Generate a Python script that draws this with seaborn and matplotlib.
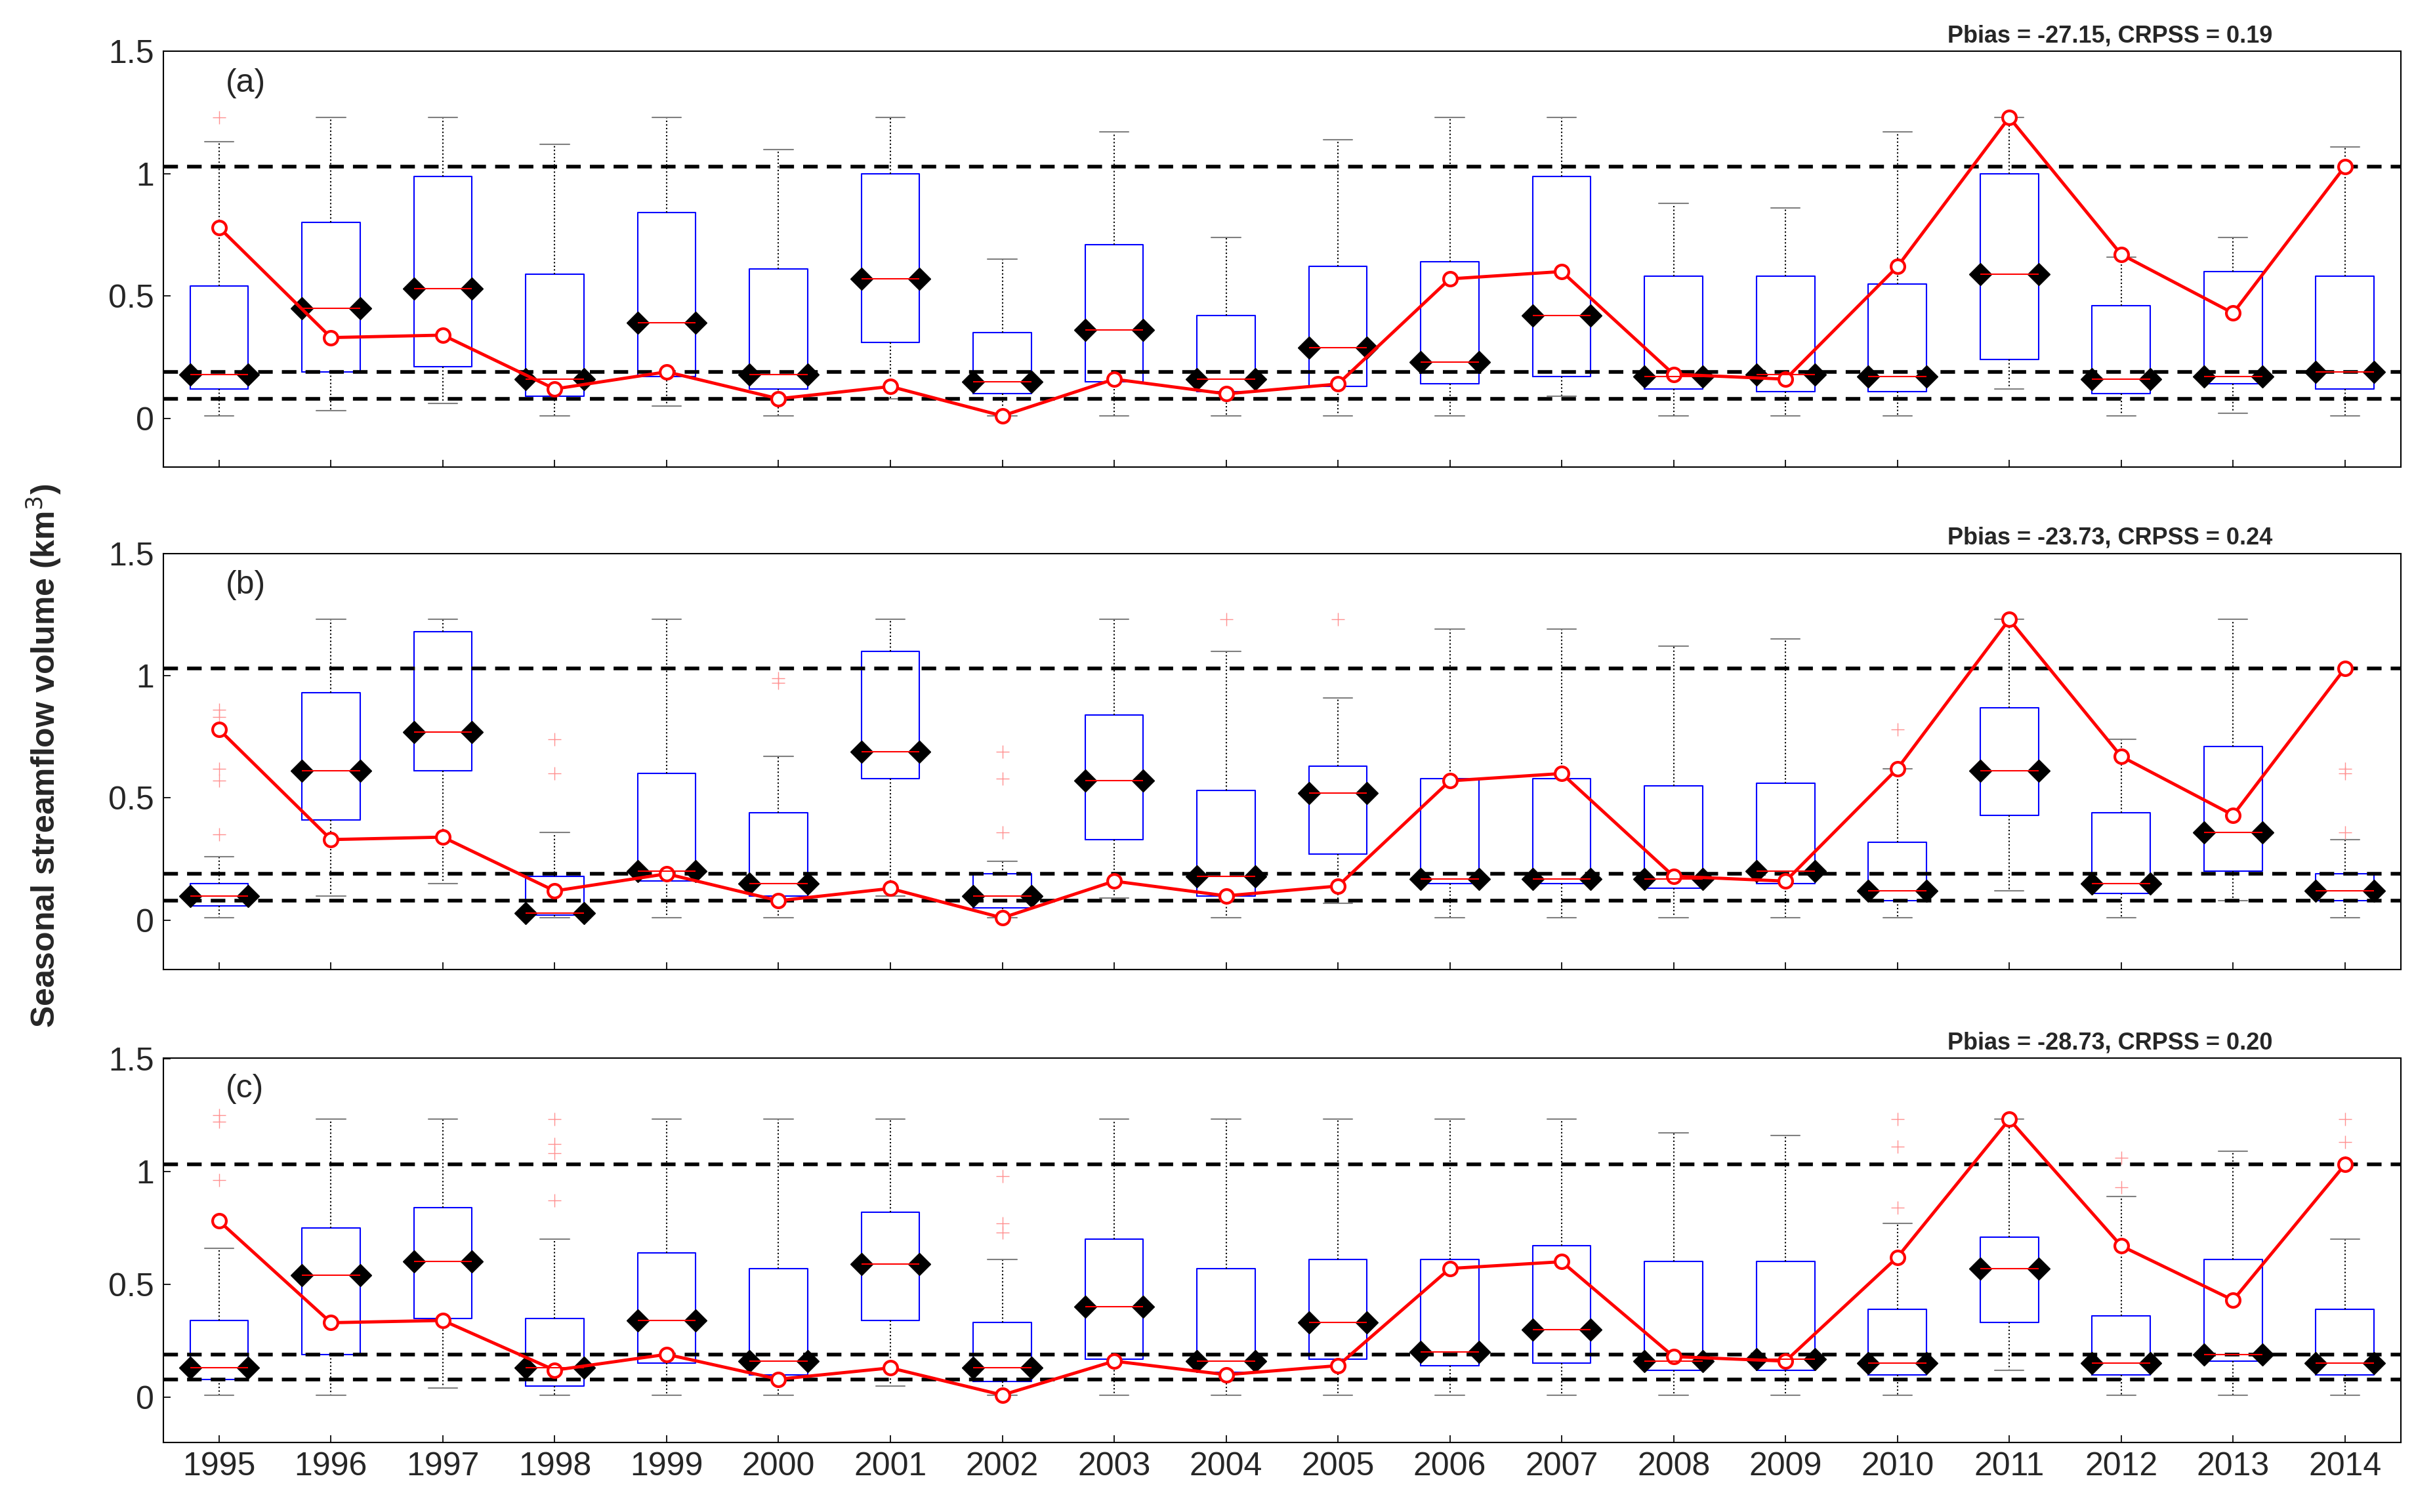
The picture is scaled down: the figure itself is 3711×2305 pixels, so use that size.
import numpy as np
import matplotlib
matplotlib.use("Agg")
import matplotlib.pyplot as plt
import seaborn as sns
import pandas as pd

sns.set_theme(style="white")
plt.rcParams['font.family'] = ['Arial', 'Liberation Sans', 'DejaVu Sans']

years = list(range(1995, 2015))
observed = [0.78, 0.33, 0.34, 0.12, 0.19, 0.08, 0.13, 0.01, 0.16, 0.10,
            0.14, 0.57, 0.60, 0.18, 0.16, 0.62, 1.23, 0.67, 0.43, 1.03]
ref_lines = [1.03, 0.19, 0.08]
titles = ["Pbias = -27.15, CRPSS = 0.19", "Pbias = -23.73, CRPSS = 0.24", "Pbias = -28.73, CRPSS = 0.20"]
labels = ["(a)", "(b)", "(c)"]

# per panel: [q1, median, q3, whisker_lo, whisker_hi] for each year
stats_a = [[0.12,0.18,0.54,0.01,1.13],[0.19,0.45,0.80,0.03,1.23],[0.21,0.53,0.99,0.06,1.23],
           [0.09,0.16,0.59,0.01,1.12],[0.17,0.39,0.84,0.05,1.23],[0.12,0.18,0.61,0.01,1.10],
           [0.31,0.57,1.00,0.08,1.23],[0.10,0.15,0.35,0.01,0.65],[0.15,0.36,0.71,0.01,1.17],
           [0.11,0.16,0.42,0.01,0.74],[0.13,0.29,0.62,0.01,1.14],[0.14,0.23,0.64,0.01,1.23],
           [0.17,0.42,0.99,0.09,1.23],[0.12,0.17,0.58,0.01,0.88],[0.11,0.18,0.58,0.01,0.86],
           [0.11,0.17,0.55,0.01,1.17],[0.24,0.59,1.00,0.12,1.23],[0.10,0.16,0.46,0.01,0.66],
           [0.14,0.17,0.60,0.02,0.74],[0.12,0.19,0.58,0.01,1.11]]
fliers_a = [[1.23]] + [[]]*19
stats_b = [[0.06,0.10,0.15,0.01,0.26],[0.41,0.61,0.93,0.10,1.23],[0.61,0.77,1.18,0.15,1.23],
           [0.02,0.03,0.18,0.01,0.36],[0.16,0.20,0.60,0.01,1.23],[0.10,0.15,0.44,0.01,0.67],
           [0.58,0.69,1.10,0.10,1.23],[0.05,0.10,0.19,0.01,0.24],[0.33,0.57,0.84,0.09,1.23],
           [0.10,0.18,0.53,0.01,1.10],[0.27,0.52,0.63,0.07,0.91],[0.15,0.17,0.58,0.01,1.19],
           [0.15,0.17,0.58,0.01,1.19],[0.13,0.17,0.55,0.01,1.12],[0.15,0.20,0.56,0.01,1.15],
           [0.08,0.12,0.32,0.01,0.62],[0.43,0.61,0.87,0.12,1.23],[0.11,0.15,0.44,0.01,0.74],
           [0.20,0.36,0.71,0.08,1.23],[0.08,0.12,0.19,0.01,0.33]]
fliers_b = [[0.35,0.57,0.62,0.83,0.86],[],[],[0.60,0.74],[],[0.97,0.99],[],[0.36,0.58,0.69],[],[1.23],
            [1.23],[],[],[],[],[0.78],[],[],[],[0.36,0.60,0.62]]
stats_c = [[0.08,0.13,0.34,0.01,0.66],[0.19,0.54,0.75,0.01,1.23],[0.35,0.60,0.84,0.04,1.23],
           [0.05,0.13,0.35,0.01,0.70],[0.15,0.34,0.64,0.01,1.23],[0.10,0.16,0.57,0.01,1.23],
           [0.34,0.59,0.82,0.05,1.23],[0.07,0.13,0.33,0.01,0.61],[0.17,0.40,0.70,0.01,1.23],
           [0.11,0.16,0.57,0.01,1.23],[0.17,0.33,0.61,0.01,1.23],[0.14,0.20,0.61,0.01,1.23],
           [0.15,0.30,0.67,0.01,1.23],[0.12,0.16,0.60,0.01,1.17],[0.12,0.17,0.60,0.01,1.16],
           [0.10,0.15,0.39,0.01,0.77],[0.33,0.57,0.71,0.12,1.23],[0.10,0.15,0.36,0.01,0.89],
           [0.16,0.19,0.61,0.01,1.09],[0.10,0.15,0.39,0.01,0.70]]
fliers_c = [[0.96,1.22,1.25],[],[],[0.87,1.08,1.12,1.23],[],[],[],[0.73,0.77,0.98],[],[],
            [],[],[],[],[],[0.84,1.11,1.23],[],[0.93,1.06],[],[1.04,1.13,1.23]]

panels = [(stats_a, fliers_a), (stats_b, fliers_b), (stats_c, fliers_c)]
positions = [(0.067, 0.691, 0.919, 0.275), (0.067, 0.359, 0.919, 0.275), (0.067, 0.046, 0.919, 0.254)]

fig = plt.figure(figsize=(37.11, 23.05), dpi=100)
pos = np.arange(len(years))
for k, ((st, fl), rect) in enumerate(zip(panels, positions)):
    ax = fig.add_axes(rect)
    bstats = [dict(q1=s[0], med=s[1], q3=s[2], whislo=s[3], whishi=s[4], fliers=f)
              for s, f in zip(st, fl)]
    ax.bxp(bstats, positions=pos, widths=0.52, showfliers=True, manage_ticks=False,
           boxprops=dict(color='blue', linewidth=1.5),
           medianprops=dict(color='red', linewidth=1.5),
           whiskerprops=dict(color='black', linestyle=':', linewidth=1.5),
           capprops=dict(color='gray', linewidth=1.5),
           flierprops=dict(marker='+', markeredgecolor='#ff9090', markersize=14, linestyle='none'))
    meds = np.array([s[1] for s in st])
    for off in (-0.26, 0.26):
        ax.plot(pos + off, meds, linestyle='none', marker='D', color='black', markersize=17)
    for r in ref_lines:
        ax.axhline(r, color='black', linestyle='--', linewidth=4, dashes=(4, 2.5))
    df = pd.DataFrame({'x': pos, 'obs': observed})
    sns.lineplot(data=df, x='x', y='obs', ax=ax, color='red', linewidth=3.5, marker='o',
                 markersize=15, markerfacecolor='white', markeredgecolor='red', markeredgewidth=3)
    ax.set_xlim(-0.5, 19.5)
    ax.set_ylim(-0.2, 1.5)
    ax.set_yticks([0, 0.5, 1, 1.5])
    ax.set_yticklabels(['0', '0.5', '1', '1.5'])
    ax.set_xticks(pos)
    if k == 2:
        ax.set_xticklabels([str(y) for y in years])
    else:
        ax.set_xticklabels([])
    ax.set_xlabel('')
    ax.set_ylabel('')
    ax.tick_params(labelsize=36, direction='in', length=8, color='black', bottom=True, left=True, pad=10)
    for sp in ax.spines.values():
        sp.set_color('black'); sp.set_linewidth(1.5)
    ax.text(0.87, 1.01, titles[k], transform=ax.transAxes, ha='center', va='bottom',
            fontsize=26, fontweight='bold')
    ax.text(0.028, 0.96, labels[k], transform=ax.transAxes, ha='left', va='top', fontsize=36)

fig.text(0.018, 0.5, 'Seasonal streamflow volume (km$^3$)', rotation=90, va='center', ha='center',
         fontsize=36, fontweight='bold')
fig.savefig('out.png', dpi=100)
